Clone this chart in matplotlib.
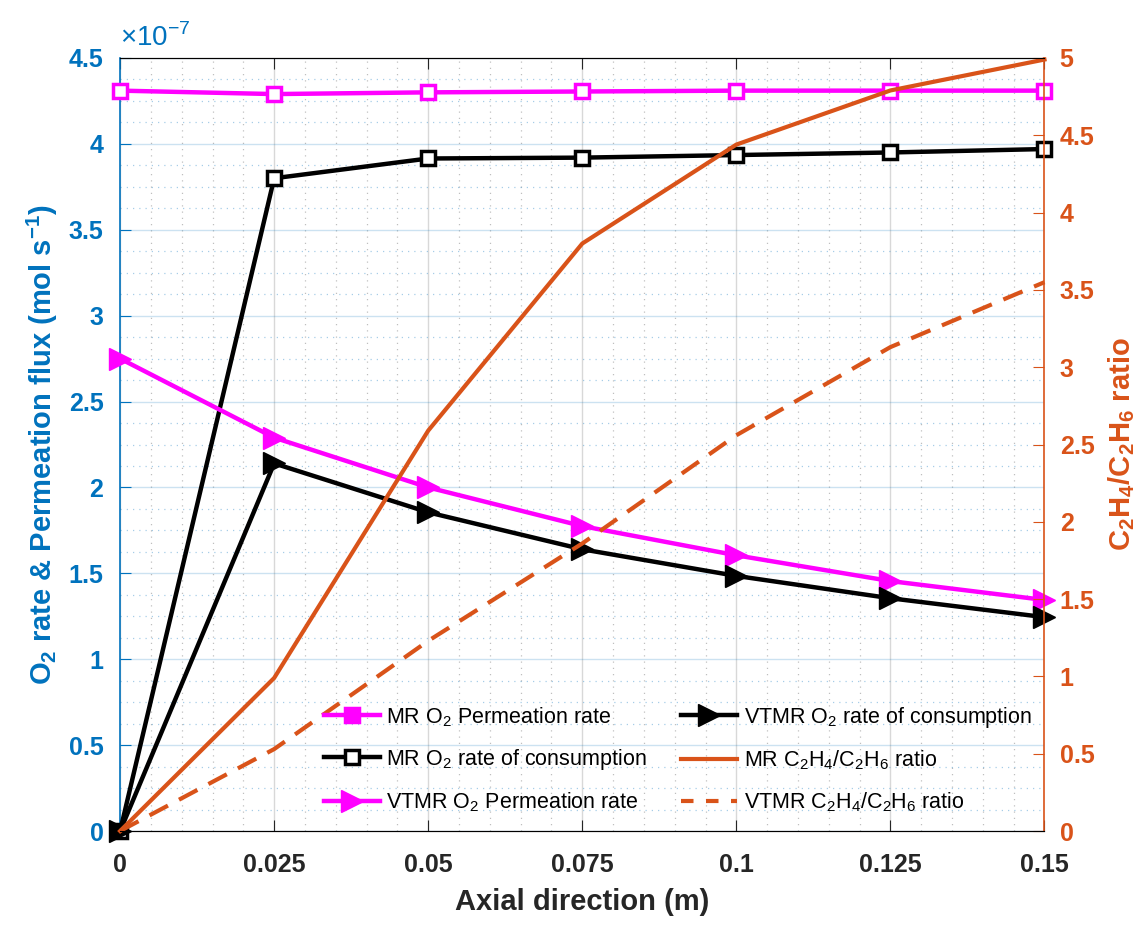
import matplotlib.pyplot as plt
from matplotlib.ticker import MultipleLocator, AutoMinorLocator, FormatStrFormatter
from matplotlib.lines import Line2D

plt.rcParams['font.family'] = ['Liberation Sans', 'DejaVu Sans']
plt.rcParams['mathtext.fontset'] = 'custom'
plt.rcParams['mathtext.rm'] = 'Liberation Sans'
plt.rcParams['mathtext.bf'] = 'Liberation Sans:bold'

# data (O2 values in units of 1e-7 mol/s)
x = [0, 0.025, 0.05, 0.075, 0.1, 0.125, 0.15]
mr_perm = [4.31, 4.29, 4.30, 4.305, 4.31, 4.31, 4.31]
mr_cons = [0, 3.80, 3.915, 3.92, 3.935, 3.95, 3.97]
vtmr_perm = [2.75, 2.29, 2.00, 1.775, 1.605, 1.455, 1.345]
vtmr_cons = [0, 2.14, 1.855, 1.64, 1.485, 1.355, 1.245]
mr_ratio = [0, 0.99, 2.59, 3.80, 4.44, 4.79, 4.99]
vtmr_ratio = [0, 0.53, 1.23, 1.86, 2.56, 3.13, 3.55]
xticks = [0, 0.025, 0.05, 0.075, 0.1, 0.125, 0.15]

blue = (0, 0.447, 0.741)
orange = (0.85, 0.325, 0.098)
magenta = (1, 0, 1)
dark = '#262626'

fig = plt.figure(figsize=(11.44, 9.25), dpi=100)
ax = fig.add_axes([0.105, 0.1016, 0.808, 0.8357])
ax2 = ax.twinx()

ax.plot(x, mr_perm, '-s', color=magenta, lw=3.2, ms=10, mfc='white', mew=2.5,
        clip_on=False, zorder=5)
ax.plot(x, mr_cons, '-s', color='black', lw=3.2, ms=10, mfc='white', mew=2.5,
        clip_on=False, zorder=5)
ax.plot(x, vtmr_perm, '->', color=magenta, lw=3.2, ms=16, clip_on=False, zorder=5)
ax.plot(x, vtmr_cons, '->', color='black', lw=3.2, ms=16, clip_on=False, zorder=5)
ax2.plot(x, mr_ratio, '-', color=orange, lw=3, clip_on=False)
ax2.plot(x, vtmr_ratio, '--', color=orange, lw=3, dashes=(5, 3), clip_on=False)

ax.set_xlim(0, 0.15)
ax.set_ylim(0, 4.5)
ax2.set_ylim(0, 5)
ax.set_xticks(xticks)
ax.xaxis.set_major_formatter(FormatStrFormatter('%g'))
ax.yaxis.set_major_locator(MultipleLocator(0.5))
ax.yaxis.set_major_formatter(FormatStrFormatter('%g'))
ax2.yaxis.set_major_locator(MultipleLocator(0.5))
ax2.yaxis.set_major_formatter(FormatStrFormatter('%g'))
ax.xaxis.set_minor_locator(AutoMinorLocator(5))
ax.yaxis.set_minor_locator(AutoMinorLocator(4))

ax.grid(True, which='major', axis='y', color=blue, alpha=0.2, lw=1)
ax.grid(True, which='major', axis='x', color='gray', alpha=0.3, lw=1)
ax.grid(True, which='minor', axis='y', color=blue, alpha=0.35, lw=0.9, ls=(0, (1, 4)))
ax.grid(True, which='minor', axis='x', color='gray', alpha=0.5, lw=0.9, ls=(0, (1, 4)))
ax.tick_params(which='minor', length=0)
ax2.tick_params(which='minor', length=0)

ax.tick_params(axis='x', colors=dark, labelsize=18, direction='in', length=8,
               top=True, pad=16)
ax.tick_params(axis='y', colors=blue, labelsize=18, direction='in', length=8, pad=12)
ax2.tick_params(axis='y', colors=orange, labelsize=18, direction='in', length=8, pad=11)
for lab in ax.get_xticklabels() + ax.get_yticklabels() + ax2.get_yticklabels():
    lab.set_fontweight('bold')

ax.spines['left'].set_color(blue)
ax.spines['left'].set_linewidth(1.2)
ax2.spines['left'].set_visible(False)
ax2.spines['right'].set_color(orange)
ax2.spines['right'].set_linewidth(1.2)
ax.spines['right'].set_visible(False)
ax.spines['top'].set_color(dark)
ax.spines['bottom'].set_color(dark)

ax.set_xlabel('Axial direction (m)', fontsize=21, fontweight='bold', color=dark,
              labelpad=8)
ax.set_ylabel(r'O$_\mathbf{2}$ rate & Permeation flux (mol s$^\mathbf{-1}$)', fontsize=21,
              fontweight='bold', color=blue, labelpad=6)
ax2.set_ylabel(r'C$_\mathbf{2}$H$_\mathbf{4}$/C$_\mathbf{2}$H$_\mathbf{6}$ ratio',
               fontsize=21, fontweight='bold', color=orange, labelpad=8)
ax.text(0.0, 1.008, r'$\times$10$^{-7}$', transform=ax.transAxes, fontsize=20,
        color=blue, ha='left', va='bottom')

handles = [
    Line2D([], [], color=magenta, lw=3.2, marker='s', ms=10, mew=2.5),
    Line2D([], [], color='black', lw=3.2, marker='s', ms=10, mfc='white', mew=2.5),
    Line2D([], [], color=magenta, lw=3.2, marker='>', ms=16),
    Line2D([], [], color='black', lw=3.2, marker='>', ms=16),
    Line2D([], [], color=orange, lw=3),
    Line2D([], [], color=orange, lw=3, ls='--', dashes=(3, 3)),
]
labels = [
    'MR O$_2$ Permeation rate',
    'MR O$_2$ rate of consumption',
    'VTMR O$_2$ Permeation rate',
    'VTMR O$_2$ rate of consumption',
    'MR C$_2$H$_4$/C$_2$H$_6$ ratio',
    'VTMR C$_2$H$_4$/C$_2$H$_6$ ratio',
]
leg = ax2.legend(handles, labels, ncol=2, loc='lower right', bbox_to_anchor=(1.005, 0.0),
                 frameon=False, fontsize=15.5, handlelength=2.6, columnspacing=1.6,
                 labelspacing=0.85, handletextpad=0.3, borderaxespad=0.4)

fig.savefig('out.png', dpi=100)
